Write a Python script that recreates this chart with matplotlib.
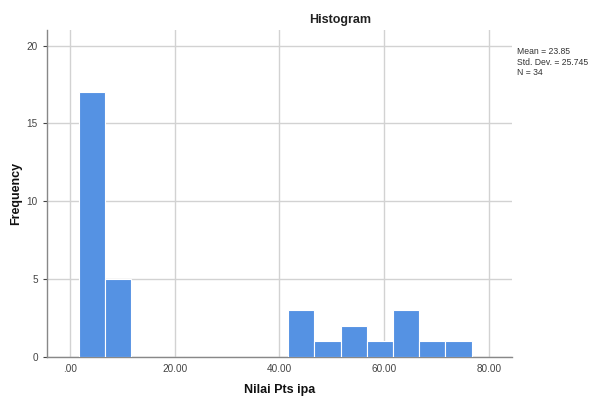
import matplotlib.pyplot as plt

plt.rcParams["font.family"] = ["Liberation Sans", "DejaVu Sans"]

BIN_START = 1.67
BIN_WIDTH = 5.0
COUNTS = [17, 5, 0, 0, 0, 0, 0, 0, 3, 1, 2, 1, 3, 1, 1]
X_TICKS = [0, 20, 40, 60, 80]
X_TICK_LABELS = [".00", "20.00", "40.00", "60.00", "80.00"]
Y_TICKS = [0, 5, 10, 15, 20]
STATS = "Mean = 23.85\nStd. Dev. = 25.745\nN = 34"

W, H = 592, 398
fig = plt.figure(figsize=(W / 100, H / 100), dpi=100)
ax = fig.add_axes([47 / W, 1 - 357 / H, (512 - 47) / W, (357 - 30) / H])

lefts = [BIN_START + i * BIN_WIDTH for i in range(len(COUNTS))]
ax.bar(lefts, COUNTS, width=BIN_WIDTH, align="edge", color="#5592e3",
       edgecolor="white", linewidth=0.8, zorder=3)

ax.set_xlim(-4.4, 84.4)
ax.set_ylim(0, 21.0)
ax.set_xticks(X_TICKS)
ax.set_xticklabels(X_TICK_LABELS)
ax.set_yticks(Y_TICKS)
ax.grid(True, color="#d2d2d2", linewidth=1.0, zorder=0)
ax.tick_params(axis="both", colors="#444444", labelsize=7.2, length=3, width=0.8)
ax.tick_params(axis="x", length=0, pad=5)

for s in ["top", "right"]:
    ax.spines[s].set_visible(False)
for s in ["left", "bottom"]:
    ax.spines[s].set_color("#888888")
    ax.spines[s].set_linewidth(1.0)

fig.text(280 / W, 1 - 390 / H, "Nilai Pts ipa", ha="center", va="center",
         fontsize=9, fontweight="bold", color="#111111")
fig.text(16 / W, 1 - 193 / H, "Frequency", ha="center", va="center",
         rotation=90, fontsize=9, fontweight="bold", color="#111111")
fig.text(340 / W, 1 - 20 / H, "Histogram", ha="center", va="center",
         fontsize=9, fontweight="bold", color="#222222")
fig.text(517 / W, 1 - 47.5 / H, STATS, ha="left", va="top", fontsize=6.2,
         color="#333333", linespacing=1.15)

fig.savefig("out.png", dpi=100)
